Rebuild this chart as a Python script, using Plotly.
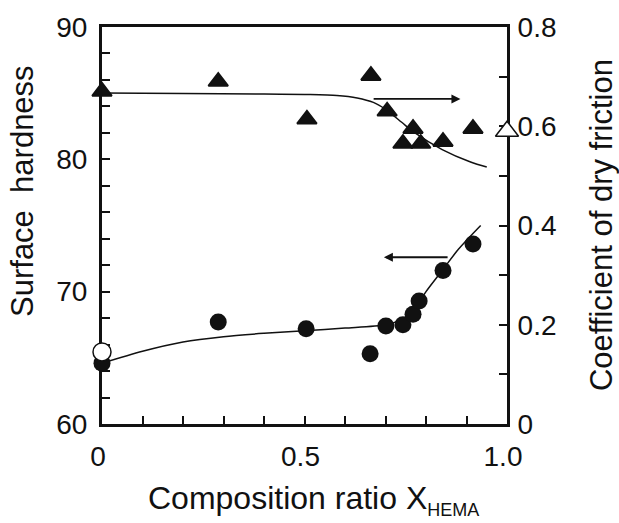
import plotly.graph_objects as go

# Composition ratio X_HEMA of each sample
hard_x = [0.0, 0.287, 0.504, 0.662, 0.701, 0.743, 0.768, 0.783, 0.842, 0.916]
# Surface hardness (left axis), filled circles
hard_y = [64.6, 67.7, 67.2, 65.3, 67.4, 67.5, 68.3, 69.3, 71.6, 73.6]
# Reference sample (open circle)
hard_ref_x = [0.0]
hard_ref_y = [65.45]

# Coefficient of dry friction (right axis), filled triangles
fric_x = [0.0, 0.287, 0.506, 0.664, 0.704, 0.768, 0.743, 0.787, 0.842, 0.916]
fric_y = [0.670, 0.690, 0.614, 0.702, 0.630, 0.595, 0.565, 0.565, 0.569, 0.595]
# Reference sample (open triangle)
fric_ref_x = [1.0]
fric_ref_y = [0.590]

# Hand-drawn trend curves
hard_fit_x = [0.0, 0.1, 0.2, 0.3, 0.4, 0.5, 0.6, 0.7, 0.74, 0.77, 0.80, 0.84, 0.88, 0.935]
hard_fit_y = [64.6, 65.5, 66.2, 66.6, 66.85, 67.05, 67.25, 67.5, 67.9, 68.6, 70.0, 71.6, 73.2, 75.0]
fric_fit_x = [0.0, 0.2, 0.4, 0.5, 0.58, 0.63, 0.67, 0.70, 0.74, 0.77, 0.84, 0.91, 0.95]
fric_fit_y = [0.667, 0.666, 0.665, 0.664, 0.662, 0.657, 0.648, 0.634, 0.608, 0.588, 0.553, 0.528, 0.518]

# Direction arrows (tail -> head): friction curve reads on the right axis,
# hardness curve reads on the left axis
fric_arrow_x = [0.667, 0.885]
fric_arrow_y = [0.655, 0.655]
hard_arrow_x = [0.857, 0.696]
hard_arrow_y = [72.6, 72.6]

# Axis ticks
x_ticks = [0.0, 0.1, 0.2, 0.3, 0.4, 0.5, 0.6, 0.7, 0.8, 0.9, 1.0]
x_labels = ["0", "", "", "", "", "0.5", "", "", "", "", "1.0"]
y_ticks = [60, 62, 64, 66, 68, 70, 72, 74, 76, 78, 80, 82, 84, 86, 88, 90]
y_labels = ["60", "", "", "", "", "70", "", "", "", "", "80", "", "", "", "", "90"]
y2_ticks = [0.0, 0.1, 0.2, 0.3, 0.4, 0.5, 0.6, 0.7, 0.8]
y2_labels = ["0", "", "0.2", "", "0.4", "", "0.6", "", "0.8"]

FONT = "Liberation Sans, Arial, sans-serif"
INK = "#111111"

fig = go.Figure()

fig.add_trace(go.Scatter(x=hard_fit_x, y=hard_fit_y, mode="lines",
                         line=dict(color=INK, width=1.5, shape="spline", smoothing=0.8),
                         yaxis="y", hoverinfo="skip", cliponaxis=False))
fig.add_trace(go.Scatter(x=fric_fit_x, y=fric_fit_y, mode="lines",
                         line=dict(color=INK, width=1.5, shape="spline", smoothing=0.8),
                         yaxis="y2", hoverinfo="skip", cliponaxis=False))

fig.add_trace(go.Scatter(x=hard_x, y=hard_y, mode="markers", yaxis="y",
                         marker=dict(symbol="circle", size=17, color=INK,
                                     line=dict(width=0)),
                         cliponaxis=False, name="Surface hardness"))
fig.add_trace(go.Scatter(x=hard_ref_x, y=hard_ref_y, mode="markers", yaxis="y",
                         marker=dict(symbol="circle", size=18, color="white",
                                     line=dict(width=1.5, color=INK)),
                         cliponaxis=False, name="Surface hardness (ref.)"))
fig.add_trace(go.Scatter(x=fric_x, y=fric_y, mode="markers", yaxis="y2",
                         marker=dict(symbol="triangle-up", size=17, color=INK,
                                     line=dict(width=2, color=INK)),
                         cliponaxis=False, name="Dry friction"))
fig.add_trace(go.Scatter(x=fric_ref_x, y=fric_ref_y, mode="markers", yaxis="y2",
                         marker=dict(symbol="triangle-up", size=20, color="white",
                                     line=dict(width=1.5, color=INK)),
                         cliponaxis=False, name="Dry friction (ref.)"))

axis_common = dict(showgrid=False, zeroline=False, showline=True, linecolor=INK,
                   linewidth=3, ticks="inside", ticklen=8, tickwidth=2, tickcolor=INK,
                   tickfont=dict(family=FONT, size=28, color=INK), layer="below traces")


def arrow(xs, ys, yref):
    """Horizontal arrow from (xs[0], ys[0]) to (xs[1], ys[1]) in data units."""
    return dict(x=xs[1], y=ys[1], ax=xs[0], ay=ys[0], xref="x", yref=yref,
                axref="x", ayref=yref, text="", showarrow=True, arrowhead=2,
                arrowsize=1, arrowwidth=1.8, arrowcolor=INK, standoff=0)


fig.update_layout(
    width=619, height=523, autosize=False,
    margin=dict(l=102, r=112, t=27, b=99),
    paper_bgcolor="white", plot_bgcolor="white",
    showlegend=False,
    xaxis=dict(range=[0, 1.0], tickmode="array", tickvals=x_ticks, ticktext=x_labels,
               mirror=True, ticklabelstandoff=5, ticklabelshift=-4, **axis_common),
    yaxis=dict(range=[60, 90], tickmode="array", tickvals=y_ticks, ticktext=y_labels,
               ticklabelstandoff=6, **axis_common),
    yaxis2=dict(range=[0, 0.8], tickmode="array", tickvals=y2_ticks, ticktext=y2_labels,
                overlaying="y", side="right", ticklabelstandoff=2, **axis_common),
    annotations=[
        arrow(fric_arrow_x, fric_arrow_y, "y2"),
        arrow(hard_arrow_x, hard_arrow_y, "y"),
        dict(x=-0.196, y=0.586, xref="paper", yref="paper", text="Surface  hardness",
             textangle=-90, showarrow=False, xanchor="center", yanchor="middle",
             font=dict(family=FONT, size=31, color=INK)),
        dict(x=1.232, y=0.501, xref="paper", yref="paper",
             text="Coefficient of dry friction",
             textangle=-90, showarrow=False, xanchor="center", yanchor="middle",
             font=dict(family=FONT, size=31, color=INK)),
        dict(x=0.522, y=-0.191, xref="paper", yref="paper",
             text="Composition ratio X<sub><span style=\"font-size:18px\">HEMA</span></sub>",
             showarrow=False, xanchor="center", yanchor="middle",
             font=dict(family=FONT, size=32, color=INK)),
    ],
)

fig.write_html("out.html")
